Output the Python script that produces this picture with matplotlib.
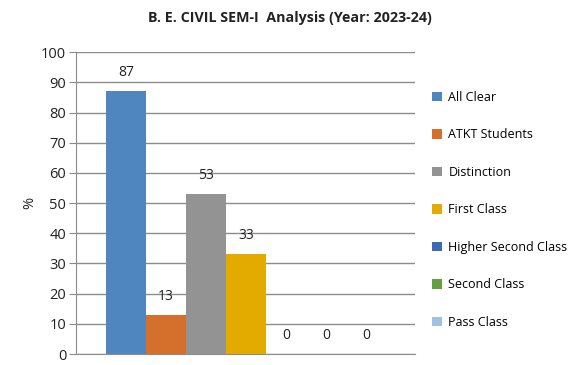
import matplotlib
matplotlib.use("Agg")
import matplotlib.pyplot as plt

categories = ["All Clear", "ATKT Students", "Distinction", "First Class",
              "Higher Second Class", "Second Class", "Pass Class"]
values = [87, 13, 53, 33, 0, 0, 0]
colors = ["#4F86C0", "#D46F2C", "#939393", "#E3AB00",
          "#3E69B4", "#63A03F", "#9EC2E6"]
yticks = [0, 10, 20, 30, 40, 50, 60, 70, 80, 90, 100]

plt.rcParams['font.family'] = ['Open Sans', 'DejaVu Sans']

fig = plt.figure(figsize=(5.8, 3.65), dpi=100)
ax = fig.add_axes([0.131, 0.030, 0.5845, 0.827])

for i, (cat, val, col) in enumerate(zip(categories, values, colors)):
    ax.bar(i, val, width=1.0, color=col, label=cat, zorder=3)
    ax.annotate(str(val), (i, val), xytext=(0, 8), textcoords='offset points',
                ha='center', va='bottom', fontsize=10, color='#222222')

ax.set_xlim(-1.25, 7.225)
ax.set_ylim(0, 100)
ax.set_yticks(yticks)
ax.set_xticks([])
ax.yaxis.grid(True, color='#8C8C8C', linewidth=1.0, zorder=0)
ax.set_axisbelow(True)
for s in ['top', 'right']:
    ax.spines[s].set_visible(False)
ax.spines['left'].set_color('#8C8C8C')
ax.spines['bottom'].set_color('#8C8C8C')
ax.tick_params(axis='y', length=5, color='#8C8C8C', labelsize=10.5, labelcolor='#222222', pad=2)
ax.set_ylabel('%', fontsize=10.5, color='#222222', labelpad=3)

fig.text(0.5, 0.95, "B. E. CIVIL SEM-I  Analysis (Year: 2023-24)",
         ha='center', va='center', fontsize=10.3, fontweight='bold', color='#222222')

fig.legend(loc='upper left', bbox_to_anchor=(0.745, 0.751), frameon=False,
           handlelength=0.8, handleheight=0.8, handletextpad=0.5,
           labelspacing=1.96, fontsize=9, borderaxespad=0, borderpad=0)

plt.savefig('out.png', dpi=100)
